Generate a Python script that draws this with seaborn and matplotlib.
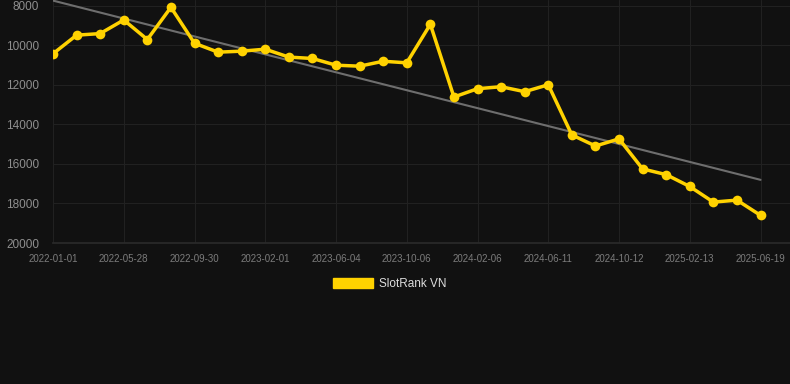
import numpy as np
import pandas as pd
import matplotlib
matplotlib.use("Agg")
import matplotlib.pyplot as plt
from matplotlib.patches import Patch
import seaborn as sns

# --- dados ---
dates = ["2022-01-01", "2022-02-18", "2022-04-08", "2022-05-28", "2022-07-08", "2022-08-19",
         "2022-09-30", "2022-11-10", "2022-12-21", "2023-02-01", "2023-03-14", "2023-04-24",
         "2023-06-04", "2023-07-15", "2023-08-25", "2023-10-06", "2023-11-16", "2023-12-27",
         "2024-02-06", "2024-03-18", "2024-04-30", "2024-06-11", "2024-07-22", "2024-09-01",
         "2024-10-12", "2024-11-22", "2025-01-02", "2025-02-13", "2025-03-27", "2025-05-08",
         "2025-06-19"]
rank = [10420, 9480, 9400, 8710, 9700, 8070, 9890, 10340, 10290, 10190,
        10590, 10660, 11000, 11050, 10800, 10880, 8930, 12610, 12190, 12090,
        12340, 11990, 14530, 15090, 14730, 16250, 16540, 17140, 17930, 17830,
        18600]
series_name = "SlotRank VN"
y_ticks = [8000, 10000, 12000, 14000, 16000, 18000, 20000]

df = pd.DataFrame({"idx": np.arange(len(dates)), "date": dates, "rank": rank})
# linha de tendência = regressão linear sobre o índice
coef = np.polyfit(df["idx"], df["rank"], 1)
df["trend"] = np.polyval(coef, df["idx"])

BG = "#111111"
YELLOW = "#FFD200"
GRID = "#212121"

sns.set_theme(style="dark")
plt.rcParams["font.family"] = ["Liberation Sans", "DejaVu Sans"]

fig = plt.figure(figsize=(7.9, 3.84), dpi=100, facecolor=BG)
ax = fig.add_axes([53 / 790, 1 - 243 / 384, 1 - 53 / 790, 243 / 384])
ax.set_facecolor(BG)

sns.lineplot(data=df, x="idx", y="trend", color="#6e6e6e", lw=1.5, ax=ax, legend=False)
sns.lineplot(data=df, x="idx", y="rank", color=YELLOW, lw=2.5, marker="o",
             markersize=7, markeredgewidth=0, ax=ax, legend=False)

ax.set_xlim(0, 31.25)
ax.set_ylim(20000, 7700)
ax.set_yticks(y_ticks)
ax.set_yticklabels([str(v) for v in y_ticks])
ax.set_xticks(df["idx"][::3])
ax.set_xticklabels(df["date"][::3])
ax.set_xlabel("")
ax.set_ylabel("")

ax.grid(True, color=GRID, lw=0.8)
for s in ["top", "right", "left"]:
    ax.spines[s].set_visible(False)
ax.spines["bottom"].set_color("#2a2a2a")
ax.tick_params(axis="x", colors=GRID, labelcolor="#7c7c7c", labelsize=7,
               length=5, width=0.8, pad=3)
ax.tick_params(axis="y", colors="#8f8f8f", labelsize=8.5, length=0, pad=10)

handle = Patch(facecolor=YELLOW, edgecolor=YELLOW, label=series_name)
leg = fig.legend(handles=[handle], loc="center", bbox_to_anchor=(0.493, 1 - 284 / 384),
                 frameon=False, fontsize=8.5, handlelength=3.4, handleheight=0.95,
                 handletextpad=0.5)
for t in leg.get_texts():
    t.set_color("#dddddd")

fig.savefig("out.png", dpi=100, facecolor=BG)
